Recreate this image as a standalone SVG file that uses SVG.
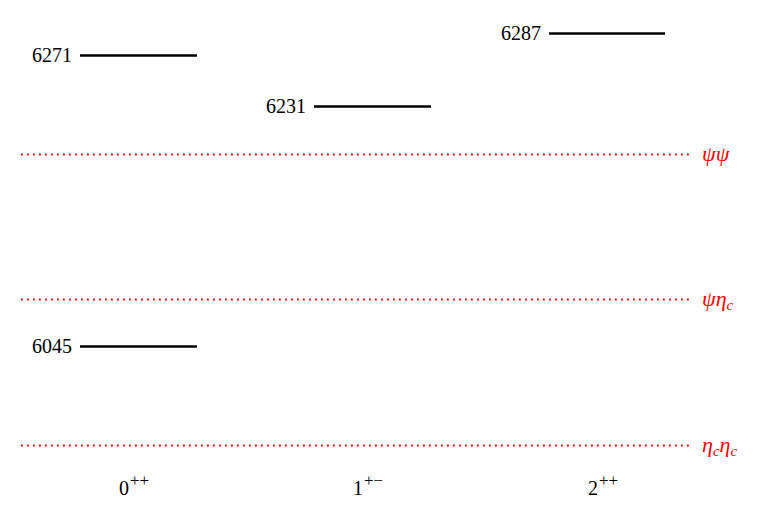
<svg xmlns="http://www.w3.org/2000/svg" width="767" height="520" viewBox="0 0 767 520">
<style>
.lvl{stroke:#000;stroke-width:2.6;fill:none}
.thr{stroke:#ff0000;stroke-width:1.8;stroke-dasharray:1.8 4.2;fill:none}
.num{font-family:"Liberation Serif","DejaVu Serif",serif;font-size:20px;fill:#000;text-anchor:end}
.jpc{font-family:"Liberation Serif","DejaVu Serif",serif;font-size:20px;fill:#000}
.sup{font-size:17px}
.tl{font-family:"Liberation Serif","DejaVu Serif",serif;font-size:22px;font-style:italic;fill:#ff0000}
.sub{font-size:15px}
</style>
<rect width="767" height="520" fill="#fff"/>
<g id="connectors">
<line class="thr" x1="21" y1="154.5" x2="692" y2="154.5"/>
<line class="thr" x1="21" y1="299.5" x2="692" y2="299.5"/>
<line class="thr" x1="21" y1="445.5" x2="692" y2="445.5"/>
</g>
<g id="thr-psipsi"><text class="tl" x="702" y="161">ψψ</text></g>
<g id="thr-psietac"><text class="tl" x="702" y="306">ψη<tspan class="sub" dy="4">c</tspan></text></g>
<g id="thr-etacetac"><text class="tl" x="702" y="452">η<tspan class="sub" dy="4">c</tspan><tspan dy="-4">η</tspan><tspan class="sub" dy="4">c</tspan></text></g>
<g id="lvl-6271"><line class="lvl" x1="80" y1="55.5" x2="197" y2="55.5"/><text class="num" x="72" y="62">6271</text></g>
<g id="lvl-6045"><line class="lvl" x1="80" y1="346.5" x2="197" y2="346.5"/><text class="num" x="72" y="353">6045</text></g>
<g id="lvl-6231"><line class="lvl" x1="314" y1="106.5" x2="431" y2="106.5"/><text class="num" x="306" y="113">6231</text></g>
<g id="lvl-6287"><line class="lvl" x1="549" y1="33.5" x2="665" y2="33.5"/><text class="num" x="541" y="40">6287</text></g>
<g id="jpc-0"><text class="jpc" x="119" y="495">0<tspan class="sup" dx="1" dy="-9">++</tspan></text></g>
<g id="jpc-1"><text class="jpc" x="353" y="495">1<tspan class="sup" dx="1" dy="-9">+−</tspan></text></g>
<g id="jpc-2"><text class="jpc" x="588" y="495">2<tspan class="sup" dx="1" dy="-9">++</tspan></text></g>
</svg>
